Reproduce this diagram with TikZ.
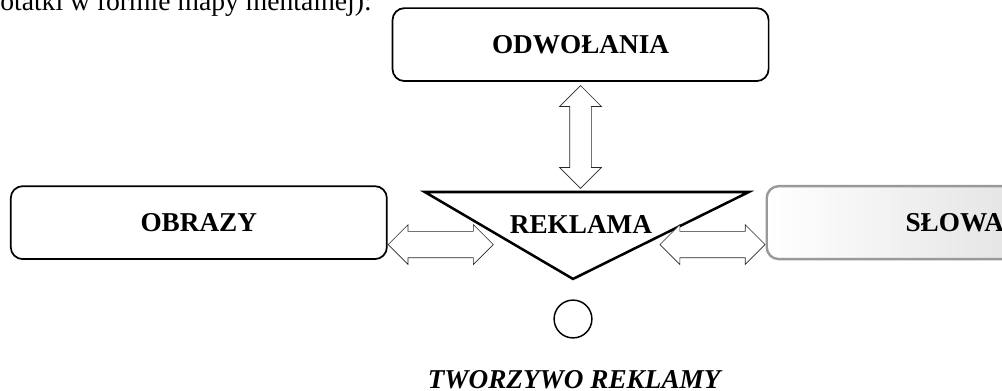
\documentclass[tikz,border=0pt]{standalone}
\usepackage{fontspec}
\setmainfont{Liberation Serif}
\usepackage{tikz}
\usetikzlibrary{positioning, calc, shapes.arrows}
\newcommand{\mapfont}{\fontsize{20.5}{24}\selectfont}
\tikzset{
	mapbox/.style={draw, rounded corners=9pt, line width=1.3pt, minimum width=9.95cm, minimum height=1.93cm, font=\mapfont\bfseries, inner sep=0pt},
	wordbox/.style={mapbox, draw=black!40, line width=1.8pt, left color=white, right color=black!16},
	dblarr/.style={double arrow, draw=black!85, line width=0.5pt, fill=white, inner xsep=0pt},
	varrow/.style={dblarr, rotate=90, minimum height=2.72cm, minimum width=1.08cm, inner ysep=0.278cm, double arrow head extend=0.265cm},
	harrow/.style={dblarr, minimum height=2.78cm, minimum width=1.03cm, inner ysep=0.34cm, double arrow head extend=0.177cm},
}

\begin{document}
\begin{tikzpicture}
	\useasboundingbox (0,0) rectangle (26.51,-10.34);

	% text above the map
	\node[anchor=base west, inner sep=0pt, font=\fontsize{20.8}{25}\selectfont] (intro) at (0,-0.29) {otatki w formie mapy mentalnej):};

	% boxes
	\node[mapbox] (odw) at (15.36,-1.18) {ODWOŁANIA};
	\node[mapbox] (obr) at (5.26,-5.89) {OBRAZY};
	\node[wordbox] (slo) at (25.26,-5.89) {SŁOWA};

	% central triangle
	\coordinate (tl) at (11.24,-5.08);
	\coordinate (tr) at (19.81,-5.08);
	\coordinate (tb) at (15.16,-7.38);
	\draw[line width=1.9pt, line join=miter] (tl) -- (tr) -- (tb) -- cycle;
	\node[font=\mapfont\bfseries, inner sep=0pt] (rek) at (15.37,-5.93) {REKLAMA};

	% double arrows
	\node[varrow] (aodw) at ($(odw.south)!0.5!(odw.south |- tl)$) {};
	\node[harrow, anchor=west] (aobr) at ([yshift=-0.58cm]obr.east) {};
	\node[harrow, anchor=east] (aslo) at ([yshift=-0.58cm]slo.west) {};

	% circle and caption
	\node[draw, circle, line width=1.1pt, minimum size=1.0cm, inner sep=0pt] (dot) at (15.16,-8.44) {};
	\node[anchor=base, inner sep=0pt, font=\mapfont\bfseries\itshape] (cap) at (15.19,-10.28) {TWORZYWO REKLAMY};
\end{tikzpicture}
\end{document}
